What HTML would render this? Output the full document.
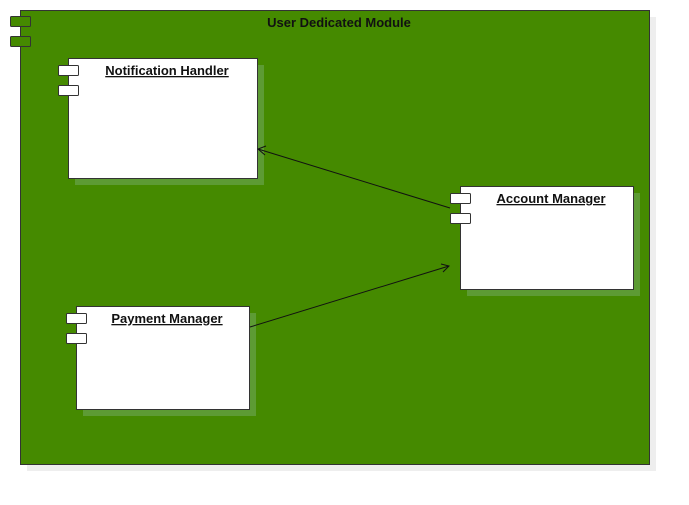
<!DOCTYPE html>
<html><head><style>body{margin:0;background:#fff}svg{display:block}text{font-family:"Liberation Sans",Arial,sans-serif;font-size:13px;font-weight:bold;text-decoration:underline}</style></head>
<body>
<svg width="689" height="505" viewBox="0 0 689 505" xmlns="http://www.w3.org/2000/svg">
<rect x="27" y="17" width="629" height="454" fill="#eeeeee"/>
<rect x="20.5" y="10.5" width="629" height="454" fill="#458a00" stroke="#333" stroke-width="1"/>
<rect x="10.5" y="16.5" width="20" height="10" rx="1" fill="#458a00" stroke="#333"/>
<rect x="10.5" y="36.5" width="20" height="10" rx="1" fill="#458a00" stroke="#333"/>
<text x="339" y="27" text-anchor="middle" style="text-decoration:none" fill="#111">User Dedicated Module</text>

<rect x="75" y="65" width="189" height="120" fill="#5d9b34"/>
<rect x="68.5" y="58.5" width="189" height="120" fill="#fff" stroke="#333"/>
<rect x="58.5" y="65.5" width="20" height="10" rx="1" fill="#fff" stroke="#333"/>
<rect x="58.5" y="85.5" width="20" height="10" rx="1" fill="#fff" stroke="#333"/>
<text x="167" y="75" text-anchor="middle" fill="#111">Notification Handler</text>

<rect x="467" y="193" width="173" height="103" fill="#5d9b34"/>
<rect x="460.5" y="186.5" width="173" height="103" fill="#fff" stroke="#333"/>
<rect x="450.5" y="193.5" width="20" height="10" rx="1" fill="#fff" stroke="#333"/>
<rect x="450.5" y="213.5" width="20" height="10" rx="1" fill="#fff" stroke="#333"/>
<text x="551" y="203" text-anchor="middle" fill="#111">Account Manager</text>

<rect x="83" y="313" width="173" height="103" fill="#5d9b34"/>
<rect x="76.5" y="306.5" width="173" height="103" fill="#fff" stroke="#333"/>
<rect x="66.5" y="313.5" width="20" height="10" rx="1" fill="#fff" stroke="#333"/>
<rect x="66.5" y="333.5" width="20" height="10" rx="1" fill="#fff" stroke="#333"/>
<text x="167" y="323" text-anchor="middle" fill="#111">Payment Manager</text>

<g stroke="#111" stroke-width="1" fill="none">
<line x1="450" y1="208" x2="258" y2="149"/>
<polyline points="266,146 258,149 265,155"/>
<line x1="250" y1="327" x2="449" y2="266"/>
<polyline points="441,264 449,266 443,272"/>
</g>
</svg>
</body></html>
